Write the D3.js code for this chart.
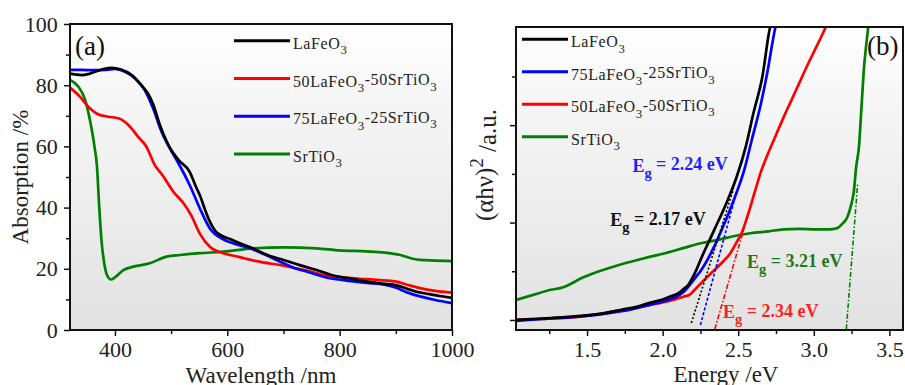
<!DOCTYPE html>
<html>
<head>
<meta charset="utf-8">
<script src="https://cdn.jsdelivr.net/npm/d3@7"></script>
<style>
  body { margin: 0; background: #fff; }
  svg { display: block; font-family: "Liberation Serif", "Times New Roman", serif; }
</style>
</head>
<body>
<div id="chart"></div>
<script>
// ---- panel (a): absorption spectra, [wavelength nm, absorption %]
let laFeO3A = [[320,83.8],[330,83.5],[341,83.3],[352,83.6],[364,84.4],[380,85.3],[394,85.7],[411,85.1],[430,83.3],[447,80],[459,77.2],[468,73.8],[480,67],[495,60.5],[513,55.6],[533,51.7],[545,46.5],[551,44.1],[560,39.5],[569,35.4],[578,32.5],[590,30.8],[605,29.7],[620,28.5],[646,26.6],[676,24.2],[700,22.9],[729,21.2],[759,19.6],[789,17.8],[820,16.8],[848,15.8],[880,15.1],[901,14.6],[920,13.5],[937,12.5],[960,11.7],[978,11.1],[1000,10.5]];
let mix75A = [[320,85],[340,85],[360,84.9],[385,85],[400,85.3],[418,84.4],[436,82.2],[453,78.4],[468,72.4],[483,64.8],[501,58.3],[513,54.5],[533,47.4],[551,39.8],[569,33.2],[593,29.6],[620,27.8],[640,26.7],[665,24.8],[694,22.3],[720,20.2],[741,19.1],[783,16.9],[820,16],[848,15.4],[880,14.8],[901,13.8],[920,12.3],[943,11],[970,9.8],[1000,8.8]];
let mix50A = [[320,79.2],[338,76.2],[350,73.5],[370,70.5],[388,69.7],[406,69.2],[424,67],[441,63.2],[456,59.9],[471,53.9],[485,50.5],[504,45.2],[522,41.4],[536,37.4],[551,31.5],[569,27.2],[593,25.1],[620,23.9],[652,22.5],[700,21],[740,19.5],[770,18],[800,17.3],[848,16.6],[901,15.8],[920,14.8],[943,13.7],[970,12.8],[1000,12.2]];
let srTiO3A = [[320,81.7],[335,79.5],[347,75.2],[356,68.1],[364,59.4],[368,53.5],[372,40.3],[376,29.4],[382,20.7],[388,17.2],[393,16.5],[400,17.2],[415,19.6],[433,20.7],[462,21.8],[492,24],[516,24.5],[551,25.1],[593,25.6],[646,26.7],[700,27],[759,26.7],[800,26],[848,25.7],[880,25.3],[908,24.5],[930,23.3],[943,22.9],[970,22.7],[1000,22.5]];

// ---- panel (b): Tauc plot, [energy eV, (ahv)^2 a.u.]
let laFeO3B = [[1.03,0],[1.2,0.015],[1.4,0.034],[1.62,0.07],[1.74,0.11],[1.84,0.14],[1.92,0.18],[2.0,0.21],[2.05,0.24],[2.11,0.28],[2.14,0.32],[2.17,0.36],[2.21,0.47],[2.26,0.65],[2.34,0.92],[2.43,1.23],[2.49,1.47],[2.55,1.78],[2.6,2.12],[2.66,2.5],[2.71,3.0],[2.73,3.1]];
let mix75B = [[1.03,-0.01],[1.2,0.01],[1.4,0.03],[1.6,0.06],[1.8,0.11],[1.9,0.15],[2.0,0.19],[2.08,0.23],[2.14,0.29],[2.18,0.36],[2.22,0.44],[2.25,0.5],[2.34,0.75],[2.4,0.96],[2.47,1.23],[2.54,1.54],[2.59,1.85],[2.65,2.22],[2.69,2.52],[2.745,3.0],[2.76,3.1]];
let mix50B = [[1.03,0],[1.2,0.01],[1.48,0.04],[1.65,0.08],[1.81,0.12],[1.92,0.155],[2.03,0.19],[2.14,0.24],[2.18,0.26],[2.23,0.34],[2.32,0.48],[2.4,0.6],[2.45,0.69],[2.49,0.8],[2.525,0.9],[2.56,1.06],[2.62,1.37],[2.65,1.52],[2.7,1.72],[2.75,1.9],[2.8,2.08],[2.85,2.25],[2.9,2.42],[2.95,2.59],[3.0,2.75],[3.05,2.91],[3.08,3.01],[3.1,3.08]];
let srTiO3B = [[1.03,0.205],[1.15,0.26],[1.26,0.31],[1.33,0.33],[1.48,0.44],[1.6,0.51],[1.7,0.56],[1.82,0.61],[1.92,0.65],[2.0,0.68],[2.14,0.74],[2.26,0.79],[2.36,0.82],[2.5,0.87],[2.58,0.89],[2.7,0.91],[2.8,0.93],[2.9,0.935],[3.02,0.93],[3.1,0.93],[3.15,0.94],[3.19,0.99],[3.22,1.05],[3.25,1.2],[3.265,1.32],[3.28,1.57],[3.3,1.8],[3.31,2.05],[3.32,2.3],[3.33,2.55],[3.345,2.8],[3.36,3.01],[3.365,3.1]];

// tangent lines (two end points each) and band gap labels
let tangents = [
  {color: "black", dash: "2,2", pts: [[2.19,-0.03],[2.47,1.35]]},
  {color: "blue",  dash: "3,2", pts: [[2.25,-0.05],[2.49,1.32]]},
  {color: "red",   dash: "5,2,1.5,2", pts: [[2.345,-0.095],[2.535,0.92]]},
  {color: "green", dash: "5,2,1.5,2", pts: [[3.215,-0.095],[3.29,1.4]]}
];
let egLabels = ["E_g = 2.24 eV", "E_g = 2.17 eV", "E_g = 3.21 eV", "E_g = 2.34 eV"];
let egColors = ["#1f1fff", "#111", "#1d7a1d", "#ff1f1f"];
let egPos = [[1.80, 1.52], [1.654, 0.96], [2.558, 0.53], [2.40, 0.017]];

let legendA = ["LaFeO_3", "50LaFeO_3-50SrTiO_3", "75LaFeO_3-25SrTiO_3", "SrTiO_3"];
let legendB = ["LaFeO_3", "75LaFeO_3-25SrTiO_3", "50LaFeO_3-50SrTiO_3", "SrTiO_3"];

let xTicksA = [400, 600, 800, 1000], xMinorA = [500, 700, 900];
let yTicksA = [0, 20, 40, 60, 80, 100], yMinorA = [10, 30, 50, 70, 90];
let xTicksB = [1.5, 2.0, 2.5, 3.0, 3.5], xMinorB = [1.25, 1.75, 2.25, 2.75, 3.25];
let yTicksB = [0, 1, 2], yMinorB = [0.5, 1.5, 2.5];

let serif = "'Liberation Serif', 'Times New Roman', serif";

let svg = d3.select("#chart").append("svg")
    .attr("width", 905)
    .attr("height", 385);

let defs = svg.append("defs");
let grad = defs.append("linearGradient")
    .attr("id", "bg")
    .attr("x1", 0).attr("y1", 0).attr("x2", 0).attr("y2", 1);
grad.append("stop").attr("offset", "0%").attr("stop-color", "#ffffff");
grad.append("stop").attr("offset", "25%").attr("stop-color", "#f6f6f6");
grad.append("stop").attr("offset", "100%").attr("stop-color", "#e2e2e2");

// write "LaFeO_3" style text, the char after "_" as subscript
function richText(sel, str, subDy) {
  let parts = str.split(/_(\w)/);
  parts.forEach((p, i) => {
    if (p === "") return;
    if (i % 2 === 1) {
      sel.append("tspan").attr("dy", subDy).attr("font-size", "80%").text(p);
    } else {
      let t = sel.append("tspan").text(p);
      if (i > 0) t.attr("dy", "-" + subDy);
    }
  });
}

function panel(id, box, xDom, yDom) {
  let g = svg.append("g").attr("transform", "translate(" + box.left + "," + box.top + ")");
  let w = box.right - box.left, h = box.bottom - box.top;
  let x = d3.scaleLinear().domain(xDom).range([0, w]);
  let y = d3.scaleLinear().domain(yDom).range([h, 0]);
  g.append("rect").attr("width", w).attr("height", h).attr("fill", "url(#bg)");
  defs.append("clipPath").attr("id", "clip" + id)
    .append("rect").attr("width", w).attr("height", h);
  return {g: g, x: x, y: y, w: w, h: h};
}

function axes(p, xt, xm, yt, ym, xFmt, yLabels) {
  let xa = p.g.append("g").attr("transform", "translate(0," + p.h + ")")
      .call(d3.axisBottom(p.x).tickValues(xt).tickSize(6).tickSizeOuter(0).tickFormat(xFmt));
  p.g.append("g").attr("transform", "translate(0," + p.h + ")")
      .call(d3.axisBottom(p.x).tickValues(xm).tickSize(4).tickSizeOuter(0).tickFormat(""));
  let ya = p.g.append("g")
      .call(d3.axisLeft(p.y).tickValues(yt).tickSize(6).tickSizeOuter(0).tickFormat(yLabels ? d3.format("d") : ""));
  p.g.append("g")
      .call(d3.axisLeft(p.y).tickValues(ym).tickSize(4).tickSizeOuter(0).tickFormat(""));
  p.g.selectAll(".domain").remove();
  p.g.selectAll(".tick line").attr("stroke", "#111").attr("stroke-width", 1.5);
  p.g.selectAll(".tick text")
      .attr("font-family", serif)
      .attr("font-size", 22)
      .attr("fill", "#222");
  xa.selectAll(".tick text").attr("dy", "0.83em");
  ya.selectAll(".tick text").attr("dx", "-0.15em");
  // frame
  p.g.append("rect").attr("width", p.w).attr("height", p.h)
      .attr("fill", "none").attr("stroke", "#111").attr("stroke-width", 2);
}

function curves(p, id, series, colors) {
  let line = d3.line().x(d => p.x(d[0])).y(d => p.y(d[1])).curve(d3.curveMonotoneX);
  let cg = p.g.append("g").attr("clip-path", "url(#clip" + id + ")");
  series.forEach((s, i) => {
    cg.append("path").datum(s)
      .attr("fill", "none")
      .attr("stroke", colors[i])
      .attr("stroke-width", 2.7)
      .attr("stroke-linejoin", "round")
      .attr("d", line);
  });
  return cg;
}

function legend(p, labels, colors, x0, y0, len, gap) {
  labels.forEach((lab, i) => {
    let yy = y0 + i * gap;
    p.g.append("line")
      .attr("x1", x0).attr("x2", x0 + len)
      .attr("y1", yy).attr("y2", yy)
      .attr("stroke", colors[i]).attr("stroke-width", 3);
    let t = p.g.append("text")
      .attr("x", x0 + len + 3).attr("y", yy + 8)
      .attr("font-size", 16).attr("letter-spacing", "0.6px")
      .attr("fill", "#222");
    richText(t, lab, "0.42em");
  });
}

// ---------- panel (a)
let pa = panel("a", {left: 70, right: 452, top: 24, bottom: 330}, [320, 1000], [0, 100]);
curves(pa, "a", [srTiO3A, mix50A, mix75A, laFeO3A], ["#008000", "#ff0000", "#0000ff", "#000000"]);
axes(pa, xTicksA, xMinorA, yTicksA, yMinorA, d3.format("d"), true);
legend(pa, legendA, ["#000000", "#ff0000", "#0000ff", "#008000"], 164, 16.7, 56, 37.8);

pa.g.append("text")
    .attr("x", 5).attr("y", 31)
    .attr("font-size", 27).attr("fill", "#111")
    .text("(a)");

svg.append("text")
    .attr("transform", "translate(28,177) rotate(-90)")
    .attr("text-anchor", "middle")
    .attr("font-size", 23).attr("fill", "#222")
    .text("Absorption /%");

svg.append("text")
    .attr("x", 261).attr("y", 383)
    .attr("text-anchor", "middle")
    .attr("font-size", 23).attr("fill", "#222")
    .text("Wavelength /nm");

// ---------- panel (b)
let pb = panel("b", {left: 516, right: 903, top: 27, bottom: 330}, [1.03, 3.59], [-0.103, 3.008]);
let cb = curves(pb, "b", [srTiO3B, mix50B, mix75B, laFeO3B], ["#008000", "#ff0000", "#0000ff", "#000000"]);
tangents.forEach(t => {
  cb.append("line")
    .attr("x1", pb.x(t.pts[0][0])).attr("y1", pb.y(t.pts[0][1]))
    .attr("x2", pb.x(t.pts[1][0])).attr("y2", pb.y(t.pts[1][1]))
    .attr("stroke", t.color).attr("stroke-width", 1.6)
    .attr("stroke-dasharray", t.dash);
});
axes(pb, xTicksB, xMinorB, yTicksB, yMinorB, d3.format(".1f"), false);
legend(pb, legendB, ["#000000", "#0000ff", "#ff0000", "#008000"], 6, 12.3, 46, 32.5);

egLabels.forEach((lab, i) => {
  let t = pb.g.append("text")
    .attr("x", pb.x(egPos[i][0])).attr("y", pb.y(egPos[i][1]))
    .attr("font-size", 18).attr("font-weight", "bold")
    .attr("fill", egColors[i]);
  richText(t, lab, "0.4em");
});

pb.g.append("text")
    .attr("x", 351).attr("y", 28)
    .attr("font-size", 27).attr("fill", "#111")
    .text("(b)");

let yl = svg.append("text")
    .attr("transform", "translate(493,165) rotate(-90)")
    .attr("text-anchor", "middle")
    .attr("font-size", 25).attr("fill", "#222");
yl.append("tspan").text("(\u03b1h\u03bd)");
yl.append("tspan").attr("dy", "-0.55em").attr("font-size", "75%").text("2");
yl.append("tspan").attr("dy", "0.55em").text(" /a.u.");

svg.append("text")
    .attr("x", 726).attr("y", 382)
    .attr("text-anchor", "middle")
    .attr("font-size", 23).attr("fill", "#222")
    .text("Energy /eV");
</script>
</body>
</html>
